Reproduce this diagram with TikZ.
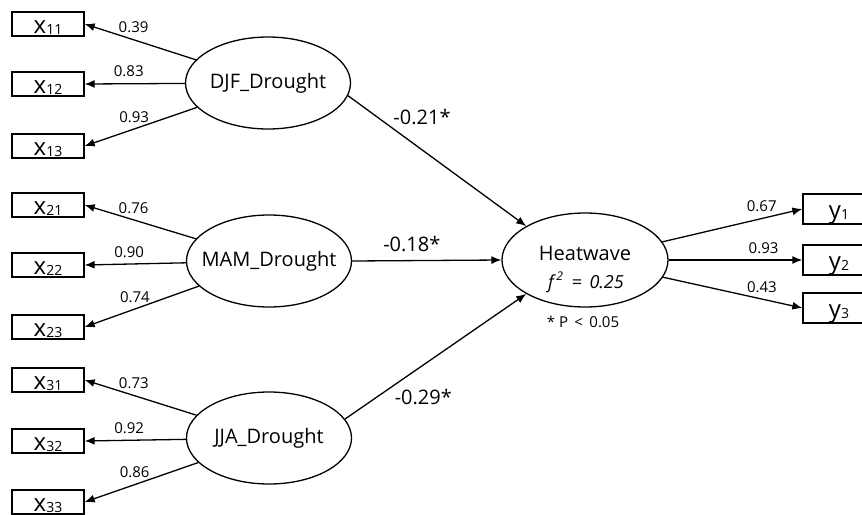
\documentclass[tikz,border=0pt]{standalone}
\usepackage{fontspec}
\setmainfont{Open Sans}
\usetikzlibrary{shapes.geometric,arrows.meta}
\newcommand{\subnum}[1]{\raisebox{-0.8pt}{\fontsize{7}{8}\selectfont #1}}
\begin{document}
\begin{tikzpicture}[x=0.5pt,y=-0.5pt,line width=0.65pt,>={Latex[length=5pt,width=4pt]},
  obs/.style={draw,rectangle,minimum width=36pt,minimum height=12pt,inner sep=0pt,text height=9pt,text depth=0pt,font=\fontsize{12}{12}\selectfont},
  outobs/.style={obs,minimum height=15pt},
  lat/.style={draw,ellipse,minimum width=82.5pt,minimum height=46pt,inner xsep=-8pt,inner ysep=0pt,font=\fontsize{10}{12}\selectfont},
  load/.style={pos=0.56,above,inner sep=3pt,font=\fontsize{7.5}{9}\selectfont},
  coef/.style={inner sep=1pt,font=\fontsize{10}{12}\selectfont}]
\useasboundingbox (0,0) rectangle (862,514);

\node[obs] (x11) at (48,24) {x\subnum{11}};
\node[obs] (x12) at (48,84) {x\subnum{12}};
\node[obs] (x13) at (48,146) {x\subnum{13}};

\node[obs] (x21) at (48,205) {x\subnum{21}};
\node[obs] (x22) at (48,265) {x\subnum{22}};
\node[obs] (x23) at (48,327) {x\subnum{23}};

\node[obs] (x31) at (48,380) {x\subnum{31}};
\node[obs] (x32) at (48,441) {x\subnum{32}};
\node[obs] (x33) at (48,502) {x\subnum{33}};

\node[lat] (djf) at (268,83) {DJF\_Drought};
\node[lat] (mam) at (269,261) {MAM\_Drought};
\node[lat] (jja) at (269,438) {JJA\_Drought};

\node[lat,minimum width=83pt,minimum height=47pt] (hw) at (585,260) {};
\node[anchor=base,font=\fontsize{10}{12}\selectfont] (hwname) at (585,260) {Heatwave};
\node[anchor=base,font=\fontsize{9}{10}\selectfont\itshape] (hwf) at (586,288) {f\kern1.2pt\textsuperscript{2} \,=\, 0.25};
\node[font=\fontsize{7.5}{9}\selectfont] (sig) at (583,322) {* P \,<\, 0.05};

\node[outobs] (y1) at (839,209) {y\subnum{1}};
\node[outobs] (y2) at (839,260) {y\subnum{2}};
\node[outobs] (y3) at (839,308) {y\subnum{3}};

\draw[->] (djf) -- node[load] {0.39} (x11.east);
\draw[->] (djf) -- node[load] {0.83} (x12.east);
\draw[->] (djf) -- node[load] {0.93} (x13.east);

\draw[->] (mam) -- node[load] {0.76} (x21.east);
\draw[->] (mam) -- node[load] {0.90} (x22.east);
\draw[->] (mam) -- node[load] {0.74} (x23.east);

\draw[->] (jja) -- node[load] {0.73} (x31.east);
\draw[->] (jja) -- node[load] {0.92} (x32.east);
\draw[->] (jja) -- node[load] {0.86} (x33.east);

\draw[->] (djf.-9) -- node[coef,pos=0.24,above right] {-0.21*} (hw.150);
\draw[->] (mam.east) -- node[coef,pos=0.4,above=3pt] {-0.18*} (hw.west);
\draw[->] (jja.14) -- node[coef,pos=0.26,below right] {-0.29*} (hw.210);

\draw[->] (hw) -- node[load,pos=0.71] {0.67} (y1.west);
\draw[->] (hw) -- node[load,pos=0.71] {0.93} (y2.west);
\draw[->] (hw) -- node[load,pos=0.71] {0.43} (y3.west);
\end{tikzpicture}
\end{document}
